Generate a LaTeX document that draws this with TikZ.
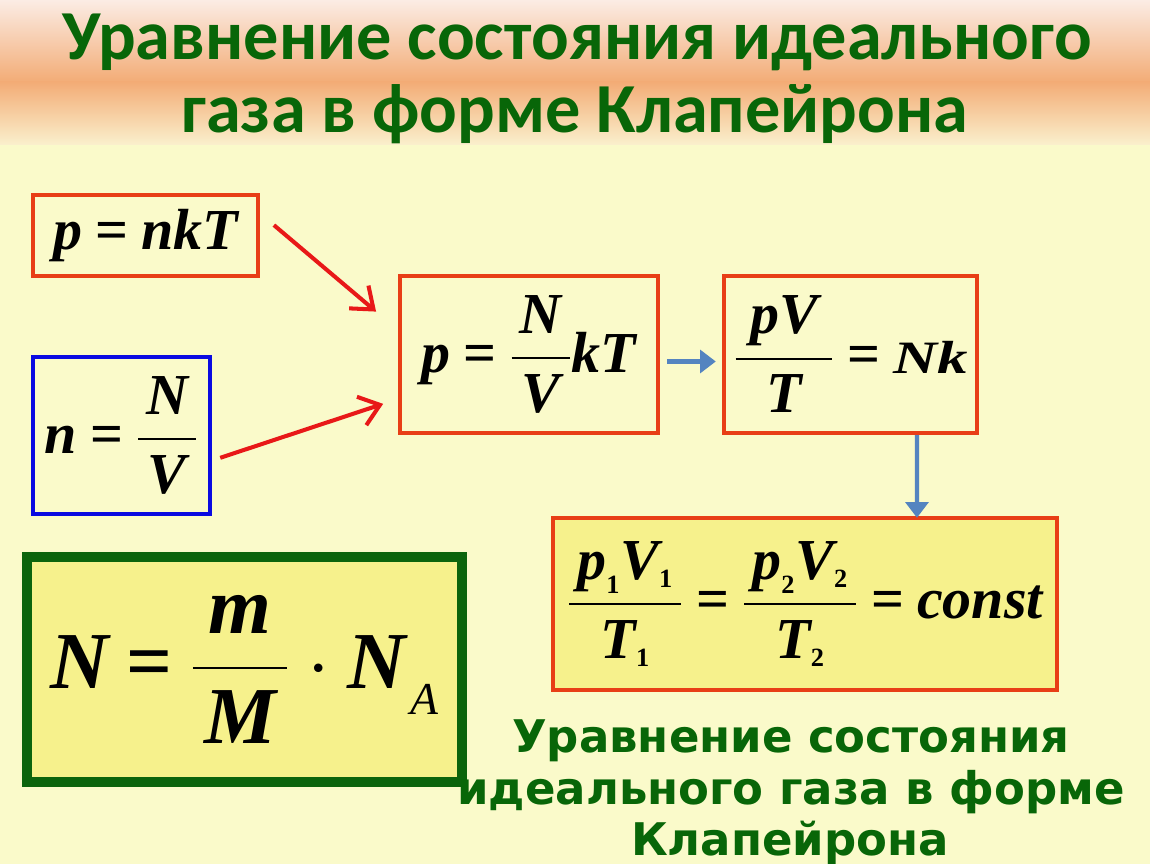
\documentclass[tikz,border=0pt]{standalone}
\usepackage{fix-cm}
\usepackage{amsmath}
\usepackage{fontspec}
\setmainfont{Liberation Serif}
\newfontfamily\headfont{Carlito}
\newfontfamily\notefont{DejaVu Sans}
\usetikzlibrary{arrows.meta}

\definecolor{bgyellow}{RGB}{250,250,202}
\definecolor{boxyellow}{RGB}{246,241,140}
\definecolor{bandtop}{RGB}{251,236,228}
\definecolor{bandmid}{RGB}{243,172,118}
\definecolor{bandlow}{RGB}{250,240,205}
\definecolor{boxred}{RGB}{232,62,22}
\definecolor{boxblue}{RGB}{10,10,225}
\definecolor{boxgreen}{RGB}{12,100,12}
\definecolor{titlegreen}{RGB}{8,102,8}
\definecolor{arrowred}{RGB}{232,24,24}
\definecolor{arrowblue}{RGB}{84,132,192}

\newcommand\vb[1]{\text{\bfseries\itshape #1}}
\newcommand\eqs{\mkern4mu\text{\bfseries =}\mkern4mu}
\newcommand\fr[2]{\genfrac{}{}{1pt}{0}{\mkern2.5mu#1\mkern2.5mu}{\mkern2.5mu#2\mkern2.5mu}}
\newcommand\ix[1]{_{\hbox{\fontsize{15}{16}\selectfont\bfseries #1}}}

\begin{document}
\begin{tikzpicture}[x=0.02cm, y=-0.02cm,
  formbox/.style={draw, line width=2.5pt, inner sep=0pt, font=\fontsize{33}{38}\selectfont},
  redbox/.style={formbox, draw=boxred},
  bluebox/.style={formbox, draw=boxblue},
  greenbox/.style={formbox, draw=boxgreen, fill=boxyellow, line width=5.5pt, font=\fontsize{46}{52}\selectfont},
  headline/.style={anchor=base, text=titlegreen, font=\headfont\bfseries\fontsize{40}{46}\selectfont},
  noteline/.style={anchor=base, text=titlegreen, font=\notefont\bfseries\fontsize{25.6}{30}\selectfont},
  redarrow/.style={draw=arrowred, line width=2.3pt, -{Straight Barb[length=11pt, width=17pt]}},
  bluearrow/.style={draw=arrowblue, line width=2.3pt, -{Triangle[length=9pt, width=13pt]}}]
\useasboundingbox (0,0) rectangle (1150,864);
\fill[bgyellow] (0,0) rectangle (1150,864);
\shade[top color=bandtop, bottom color=bandmid] (0,0) rectangle (1150,82);
\shade[top color=bandmid, bottom color=bandlow] (0,82) rectangle (1150,145);

\node (title1) at (577,60) [headline] {Уравнение состояния идеального};
\node (title2) at (575,133) [headline] {газа в форме Клапейрона};

\node (pnkT) at (145.5,235.5) [redbox, minimum width=4.5cm, minimum height=1.62cm] {$\vb{p}\eqs\vb{nkT}$};
\node (nNV) at (121.5,435.5) [bluebox, minimum width=3.54cm, minimum height=3.14cm] {$\vb{n}\eqs\fr{\vb{N}}{\vb{V}}$};
\node (pNVkT) at (529,354.5) [redbox, minimum width=5.16cm, minimum height=3.14cm] {$\vb{p}\eqs\fr{\vb{N}}{\vb{V}}\vb{kT}$};
\node (pVT) at (850.5,354.5) [redbox, minimum width=5.06cm, minimum height=3.14cm] {$\fr{\mkern2mu\vb{pV}\mkern2mu}{\vb{T}}\eqs\text{\scalebox{1.05}[0.8]{\bfseries\itshape Nk}}$};
\node (clap) at (805,604) [redbox, fill=boxyellow, minimum width=10.08cm, minimum height=3.44cm] {$\fr{\vb{p}\ix{1}\vb{V}\ix{1}}{\vb{T}\ix{1}}\eqs\fr{\vb{p}\ix{2}\vb{V}\ix{2}}{\vb{T}\ix{2}}\eqs\vb{const}$};
\node (NNA) at (244.5,669.5) [greenbox, minimum width=8.7cm, minimum height=4.5cm] {$\vb{N}\eqs\fr{\vb{m}}{\vb{M}}\cdot\vb{N}\mkern1mu\raisebox{-0.32em}{\fontsize{26}{28}\selectfont\itshape A}$};

\draw[redarrow, shorten <=0.36cm, shorten >=0.57cm] ([yshift=0.44cm]pnkT.east) -- ([yshift=0.49cm]pNVkT.west);
\draw[redarrow, shorten <=0.17cm, shorten >=0.31cm] ([yshift=-0.5cm]nNV.east) -- ([yshift=-0.89cm]pNVkT.west);
\draw[bluearrow, shorten <=0.14cm, shorten >=0.12cm] ([yshift=-0.14cm]pNVkT.east) -- ([yshift=-0.14cm]pVT.west);
\draw[bluearrow] ([xshift=1.33cm]pVT.south) -- ([xshift=2.24cm, yshift=-0.04cm]clap.north);

\node (note1) at (791,752) [noteline] {Уравнение состояния};
\node (note2) at (791,805) [noteline] {идеального газа в форме};
\node (note3) at (790,855) [noteline] {Клапейрона};
\end{tikzpicture}
\end{document}
